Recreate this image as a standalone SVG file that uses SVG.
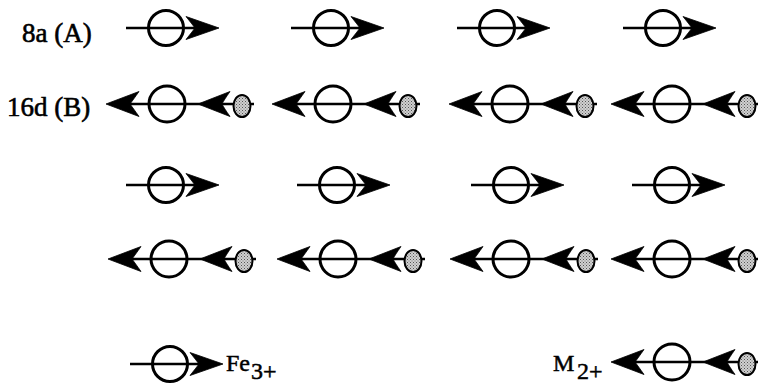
<svg xmlns="http://www.w3.org/2000/svg" xmlns:xlink="http://www.w3.org/1999/xlink" width="758" height="385" viewBox="0 0 758 385">
<style>
.ln{stroke:#000;stroke-width:2.5;fill:none}
.ring{stroke:#000;stroke-width:3;fill:none}
.head{fill:#000;stroke:#000;stroke-width:0.8;stroke-linejoin:round}
.dot{fill:url(#stip);stroke:#000;stroke-width:2}
.lbl{font-family:"Liberation Serif","Times New Roman",serif;font-size:27px;fill:#000;stroke:#000;stroke-width:0.6}
.leg{font-family:"Liberation Serif","Times New Roman",serif;font-size:24px;fill:#000;stroke:#000;stroke-width:0.5}
</style>
<defs>
<pattern id="stip" width="3" height="3" patternUnits="userSpaceOnUse">
<rect width="3" height="3" fill="#d0d0d0"/>
<rect width="1" height="1" fill="#555"/>
<rect x="1.5" y="1.5" width="1" height="1" fill="#777"/>
</pattern>
<g id="fe">
<line class="ln" x1="-40" y1="0" x2="44" y2="0"/>
<circle class="ring" cx="0" cy="0" r="17.5"/>
<path class="head" d="M53,0 L20,-11.5 Q26,-4 29,0 Q26,4 20,11.5 Z"/>
</g>
<g id="m">
<line class="ln" x1="-55" y1="0" x2="87" y2="0"/>
<circle class="ring" cx="0" cy="0" r="18"/>
<path class="head" d="M-61,0 L-28,-12.5 Q-34,-4 -37,0 Q-34,4 -28,12.5 Z"/>
<path class="head" d="M31,0 L63,-12.5 Q57,-4 55,0 Q57,4 63,12.5 Z"/>
<ellipse class="dot" cx="75" cy="2" rx="8.5" ry="11"/>
</g>
</defs>
<g id="label-8a"><text class="lbl" x="22" y="42">8a (A)</text></g>
<g id="label-16d"><text class="lbl" x="7" y="116">16d (B)</text></g>
<g id="row1">
<use xlink:href="#fe" x="166" y="28"/>
<use xlink:href="#fe" x="331" y="28"/>
<use xlink:href="#fe" x="497" y="28"/>
<use xlink:href="#fe" x="663" y="28"/>
</g>
<g id="row2">
<use xlink:href="#m" x="167" y="104"/>
<use xlink:href="#m" x="333" y="104"/>
<use xlink:href="#m" x="510" y="104"/>
<use xlink:href="#m" x="672" y="104"/>
</g>
<g id="row3">
<use xlink:href="#fe" x="166" y="185"/>
<use xlink:href="#fe" x="337" y="185"/>
<use xlink:href="#fe" x="511" y="185"/>
<use xlink:href="#fe" x="672" y="185"/>
</g>
<g id="row4">
<use xlink:href="#m" x="169" y="259"/>
<use xlink:href="#m" x="338" y="259"/>
<use xlink:href="#m" x="511" y="259"/>
<use xlink:href="#m" x="672" y="259"/>
</g>
<g id="legend-fe">
<use xlink:href="#fe" x="170" y="364"/>
<text class="leg" x="226" y="371">Fe<tspan x="251" y="379">3+</tspan></text>
</g>
<g id="legend-m">
<use xlink:href="#m" x="672" y="362"/>
<text class="leg" x="553" y="371">M<tspan x="577" y="379">2+</tspan></text>
</g>
</svg>
